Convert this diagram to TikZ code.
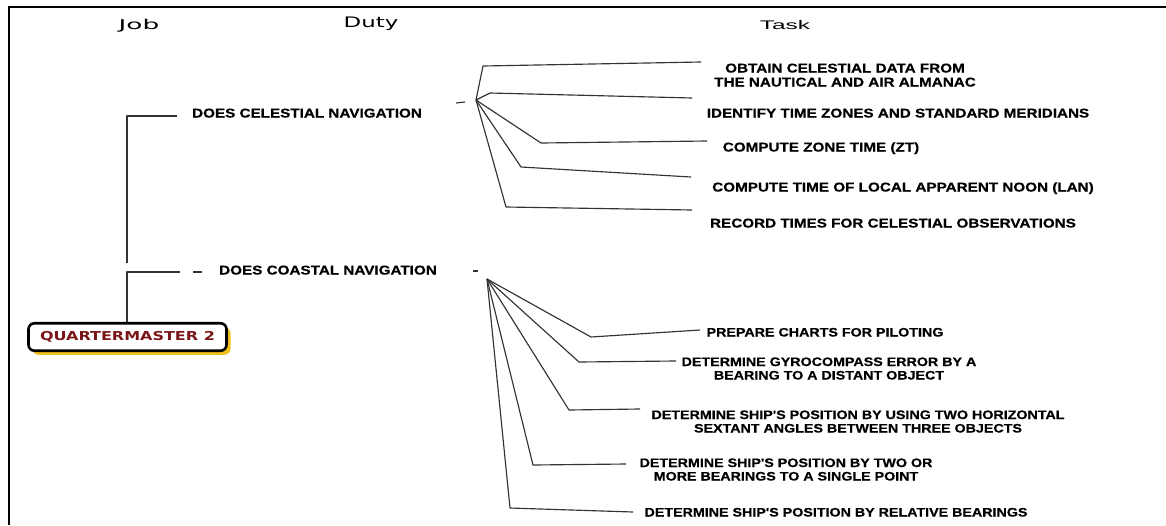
\documentclass[tikz,border=0pt]{standalone}
\usepackage{graphicx}
\usepackage{fontspec}
\setmainfont{Liberation Sans}
\newfontfamily\headfont{DejaVu Sans}
\newfontfamily\taskfont{Liberation Sans}[UprightFont=*-Bold, FakeBold=0.5]
\usetikzlibrary{shadows}

\definecolor{qmred}{RGB}{122,22,24}
\definecolor{qmyellow}{RGB}{242,192,26}

\newcommand{\stretchtxt}[1]{\scalebox{1.2}[1]{#1}}
\newcommand{\stretchnarrow}[1]{\scalebox{1.16}[1]{#1}}
\newcommand{\apos}{\textquotesingle}

\tikzset{
  wire/.style={draw=black!80, line width=1.15pt, line join=round},
  framerule/.style={draw=black, line width=2.6pt},
  tasklabel/.style={font=\taskfont\fontsize{12.7}{14}\selectfont, inner sep=0pt, align=center, anchor=base},
  coastlabel/.style={tasklabel, font=\taskfont\fontsize{12.3}{13.5}\selectfont},
  headlabel/.style={inner sep=0pt, anchor=base},
  jobbox/.style={draw=black, line width=2.6pt, rounded corners=6pt, fill=white,
    minimum width=198pt, minimum height=27.5pt, inner sep=0pt,
    drop shadow={shadow xshift=4pt, shadow yshift=-4pt, fill=qmyellow, opacity=1},
    font=\headfont\bfseries\fontsize{12.3}{13}\selectfont, text=qmred},
}

\begin{document}
\begin{tikzpicture}[x=1pt, y=-1pt]
\useasboundingbox (0,0) rectangle (1166,525);

% page frame: top and left rules
\draw[framerule] (1166,7) -- (9,7) -- (9,525);

% column headings
\node[headlabel] (hjob)  at (139,29) {\headfont\fontsize{13.5}{14}\selectfont\scalebox{1.95}[1]{Job}};
\node[headlabel] (hduty) at (371,27) {\headfont\fontsize{14.5}{15}\selectfont\scalebox{1.58}[1]{Duty}};
\node[headlabel] (htask) at (785,29) {\fontsize{12.5}{13}\selectfont\scalebox{1.95}[1]{Task}};

% job
\node[jobbox] (qm) at (127.5,337) {\scalebox{1.3}[1]{QUARTERMASTER 2}};

% duties
\node[tasklabel] (celnav) at (307,117.5) {\stretchtxt{DOES CELESTIAL NAVIGATION}};
\node[tasklabel] (coanav) at (328,274.5) {\stretchtxt{DOES COASTAL NAVIGATION}};

% job-to-duty bracket
\coordinate (jc) at (127,272);
\coordinate (jcend) at (180,272);
\coordinate (jt) at (127,263);
\coordinate (jtcorner) at (127,116);
\coordinate (jtend) at (177,116);
\draw[wire] (qm.north -| jc) -- (jc) -- (jcend);
\draw[wire] (jt) -- (jtcorner) -- (jtend);

% small marks beside the duty labels
\coordinate (m1a) at (193,272); \coordinate (m1b) at (202,272);
\coordinate (m2a) at (456,103); \coordinate (m2b) at (465,102);
\coordinate (m3a) at (473,271); \coordinate (m3b) at (478,271);
\draw[wire] (m1a) -- (m1b);
\draw[wire] (m2a) -- (m2b);
\draw[wire] (m3a) -- (m3b);

% celestial tasks (two-line labels are placed on their last baseline)
\node[tasklabel] (t1) at (845,86.5) {\stretchtxt{OBTAIN CELESTIAL DATA FROM}\\\stretchtxt{THE NAUTICAL AND AIR ALMANAC}};
\node[tasklabel] (t2) at (898,117.5) {\stretchtxt{IDENTIFY TIME ZONES AND STANDARD MERIDIANS}};
\node[tasklabel] (t3) at (821,151.5) {\stretchtxt{COMPUTE ZONE TIME (ZT)}};
\node[tasklabel] (t4) at (903,191.5) {\stretchtxt{COMPUTE TIME OF LOCAL APPARENT NOON (LAN)}};
\node[tasklabel] (t5) at (893,227.5) {\stretchtxt{RECORD TIMES FOR CELESTIAL OBSERVATIONS}};

\coordinate (chub) at (476,100);
\coordinate (cb1) at (483,66);  \coordinate (ce1) at (701,62);
\coordinate (cb2) at (490,93);  \coordinate (ce2) at (692,98);
\coordinate (cb3) at (541,143); \coordinate (ce3) at (707,141);
\coordinate (cb4) at (521,167); \coordinate (ce4) at (691,177);
\coordinate (cb5) at (506,207); \coordinate (ce5) at (692,210);
\foreach \i in {1,...,5} \draw[wire] (chub) -- (cb\i) -- (ce\i);

% coastal tasks
\node[coastlabel] (k1) at (825,336.5) {\stretchnarrow{PREPARE CHARTS FOR PILOTING}};
\node[coastlabel] (k2) at (829,379.5) {\stretchnarrow{DETERMINE GYROCOMPASS ERROR BY A}\\\stretchnarrow{BEARING TO A DISTANT OBJECT}};
\node[coastlabel] (k3) at (858,432.5) {\stretchnarrow{DETERMINE SHIP\apos S POSITION BY USING TWO HORIZONTAL}\\\stretchnarrow{SEXTANT ANGLES BETWEEN THREE OBJECTS}};
\node[coastlabel] (k4) at (786,480.5) {\stretchnarrow{DETERMINE SHIP\apos S POSITION BY TWO OR}\\\stretchnarrow{MORE BEARINGS TO A SINGLE POINT}};
\node[coastlabel] (k5) at (836,516.5) {\stretchnarrow{DETERMINE SHIP\apos S POSITION BY RELATIVE BEARINGS}};

\coordinate (khub) at (487,279);
\coordinate (kb1) at (591,337); \coordinate (ke1) at (700,330);
\coordinate (kb2) at (579,362); \coordinate (ke2) at (676,361);
\coordinate (kb3) at (569,410); \coordinate (ke3) at (640,409);
\coordinate (kb4) at (533,465); \coordinate (ke4) at (626,464);
\coordinate (kb5) at (510,508); \coordinate (ke5) at (633,512);
\foreach \i in {1,...,5} \draw[wire] (khub) -- (kb\i) -- (ke\i);
\end{tikzpicture}
\end{document}
